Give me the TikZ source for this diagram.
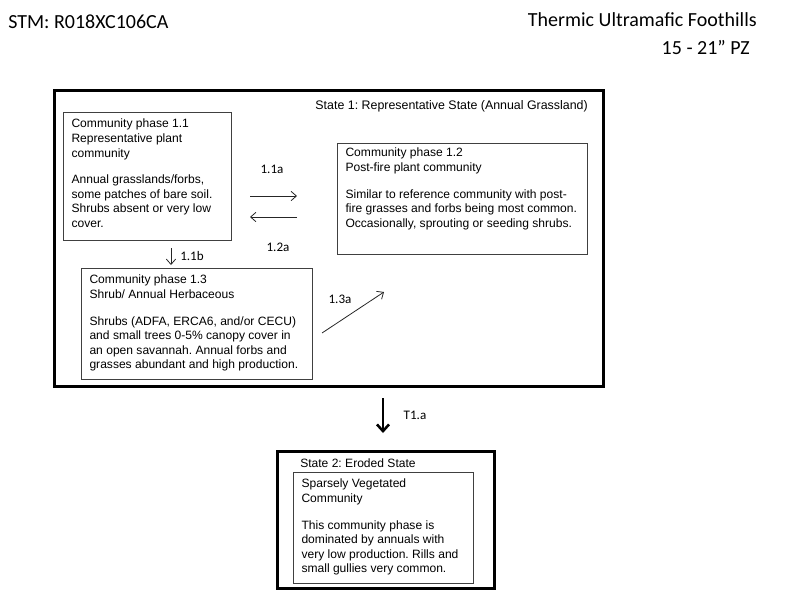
\documentclass[tikz,border=0pt]{standalone}
\usepackage{fontspec}
\setmainfont{Liberation Sans}
\newfontfamily\calibri{Carlito}
\usetikzlibrary{arrows.meta}
\newcommand\ptext[3]{\parbox[t][#2][t]{#1}{\raggedright\leftskip=3pt #3}}
\frenchspacing
\begin{document}
\frenchspacing
\begin{tikzpicture}[x=0.75pt,y=-0.75pt,
  phase/.style={draw=black!75, line width=0.8pt, anchor=north west, inner xsep=3pt, inner ysep=5pt, font=\fontsize{9.05}{10.9}\selectfont},
  statebox/.style={draw=black, line width=2.2pt, anchor=north west, inner sep=0pt},
  lbl/.style={font=\fontsize{9.05}{11}\selectfont, inner sep=0pt},
  arlbl/.style={font=\calibri\fontsize{9.8}{11}\selectfont, inner sep=0pt},
  titl/.style={font=\calibri\fontsize{15}{18}\selectfont, inner sep=0pt},
  arr/.style={-{Straight Barb[length=4pt,width=7pt]}, line width=0.6pt, black!85},
  bigarr/.style={-{Straight Barb[length=5pt,width=9pt]}, line width=1.9pt, black}]
\useasboundingbox (0,0) rectangle (800,600);

% titles
\node[titl, anchor=west] (stm) at (8,22) {STM: R018XC106CA};
\node[titl, anchor=east] (mlra) at (757,20) {Thermic Ultramafic Foothills};
\node[titl, anchor=east] (pz) at (750,48) {15 - 21” PZ};

% state 1
\node[statebox, minimum width=411.75pt, minimum height=222pt] (s1) at (53,89) {};
\node[lbl, anchor=east, font=\fontsize{9.3}{11}\selectfont] (s1lab) at (588,106) {State 1: Representative State (Annual Grassland)};

\node[phase] (p11) at (63,112) {\ptext{120pt}{86pt}{Community phase 1.1\\Representative plant\\community\\[9pt]Annual grasslands/forbs,\\some patches of bare soil.\\Shrubs absent or very low\\cover.}};

\node[phase, inner ysep=3.5pt] (p12) at (337,143) {\ptext{181.5pt}{76.25pt}{Community phase 1.2\\Post-fire plant community\\[9pt]Similar to reference community with post-\\fire grasses and forbs being most common.\\Occasionally, sprouting or seeding shrubs.}};

\node[phase] (p13) at (81,268) {\ptext{167.25pt}{73.25pt}{Community phase 1.3\\Shrub/ Annual Herbaceous\\[9pt]Shrubs (ADFA, ERCA6, and/or CECU)\\and small trees 0-5\% canopy cover in\\an open savannah. Annual forbs and\\grasses abundant and high production.}};

% transitions within state 1
\coordinate (a1s) at (250,196); \coordinate (a1e) at (297,196);
\coordinate (a2s) at (297,217); \coordinate (a2e) at (250,217);
\coordinate (b1s) at (171,248); \coordinate (b1e) at (171,265);
\coordinate (c1s) at (322,333); \coordinate (c1e) at (384,292);
\draw[arr] (a1s) -- (a1e);
\draw[arr] (a2s) -- (a2e);
\draw[arr] (b1s) -- (b1e);
\draw[arr] (c1s) -- (c1e);
\node[arlbl] (l11a) at (272,169) {1.1a};
\node[arlbl] (l12a) at (278,247) {1.2a};
\node[arlbl, anchor=west] (l11b) at (180,256) {1.1b};
\node[arlbl] (l13a) at (340,299) {1.3a};

% transition to state 2
\coordinate (t1s) at (383,398); \coordinate (t1e) at (383,433);
\draw[bigarr] (t1s) -- (t1e);
\node[arlbl] (lt1a) at (415,415) {T1.a};

% state 2
\node[statebox, minimum width=162.75pt, minimum height=102.75pt] (s2) at (276,450) {};
\node[lbl, anchor=west] (s2lab) at (300,463) {State 2: Eroded State};
\node[phase] (p21) at (293,472) {\ptext{129pt}{73.25pt}{Sparsely Vegetated\\Community\\[9pt]This community phase is\\dominated by annuals with\\very low production. Rills and\\small gullies very common.}};
\end{tikzpicture}
\end{document}
